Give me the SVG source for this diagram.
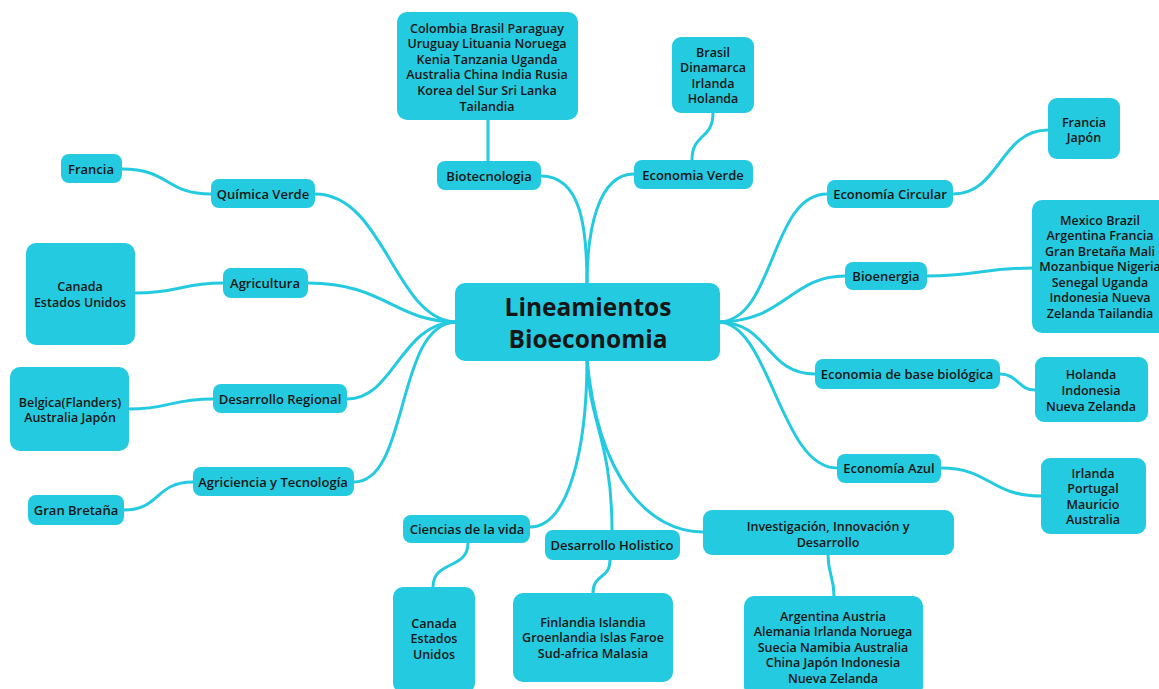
<svg xmlns="http://www.w3.org/2000/svg" width="1159" height="689" viewBox="0 0 1159 689">
<style>
.n{fill:#24CADF;}
.t{font-family:"Open Sans","Liberation Sans",sans-serif;font-weight:600;font-size:13px;fill:#161616;text-anchor:middle;dominant-baseline:central;}
.m{font-size:12.5px;}
.c{fill:none;stroke:#24CADF;stroke-width:3;stroke-linecap:round;}
.big{font-size:24.5px;font-weight:700;}
</style>
<rect width="1159" height="689" fill="#ffffff"/>
<g id="connectors">
<path class="c" d="M315,194 C385,194 395,322 457,322"/>
<path class="c" d="M308,283 C385,283 395,322 457,322"/>
<path class="c" d="M347,399 C395,399 400,322 457,322"/>
<path class="c" d="M354,482 C410,482 395,322 457,322"/>
<path class="c" d="M718,322 C775,322 770,194 827,194"/>
<path class="c" d="M718,322 C785,322 790,276 845,276"/>
<path class="c" d="M718,322 C770,322 765,374 815,374"/>
<path class="c" d="M718,322 C770,322 780,468 837,468"/>
<path class="c" d="M541,176 C582,176 587,230 587,285"/>
<path class="c" d="M634,174 C598,174 587,230 587,285"/>
<path class="c" d="M530,527 C568,527 587,450 587,359"/>
<path class="c" d="M612,530 C612,440 588,420 587,359"/>
<path class="c" d="M703,532 C650,532 598,480 587,359"/>
<path class="c" d="M122,169 C170,169 165,194 211,194"/>
<path class="c" d="M223,283 C180,283 180,293 135,293"/>
<path class="c" d="M213,399 C170,399 170,409 129,409"/>
<path class="c" d="M193,482 C155,482 160,510 124,510"/>
<path class="c" d="M488,120 L488,161"/>
<path class="c" d="M713,113 C713,140 692,133 692,160"/>
<path class="c" d="M953,194 C1000,194 1000,130 1048,130"/>
<path class="c" d="M927,276 C975,276 985,268 1032,268"/>
<path class="c" d="M1000,374 C1018,374 1018,390 1035,390"/>
<path class="c" d="M941,468 C990,468 990,496 1041,496"/>
<path class="c" d="M468,543 C468,570 433,560 433,587"/>
<path class="c" d="M610,560 C610,580 593,573 593,593"/>
<path class="c" d="M828,555 C828,575 834,576 834,596"/>
</g>
<g id="center"><rect class="n" x="455" y="283" width="265" height="78" rx="10"/><text class="t big" x="588" y="306">Lineamientos</text><text class="t big" x="588" y="338">Bioeconomia</text></g>
<g id="biotecnologia"><rect class="n" x="437" y="161" width="104" height="29" rx="8"/><text class="t" x="489" y="176">Biotecnologia</text></g>
<g id="bio-paises"><rect class="n" x="397" y="12" width="181" height="108" rx="10"/><text class="t m" x="487" y="28">Colombia Brasil Paraguay</text><text class="t m" x="487" y="43.6">Uruguay Lituania Noruega</text><text class="t m" x="487" y="59.2">Kenia Tanzania Uganda</text><text class="t m" x="487" y="74.8">Australia China India Rusia</text><text class="t m" x="487" y="90.4">Korea del Sur Sri Lanka</text><text class="t m" x="487" y="106">Tailandia</text></g>
<g id="economia-verde"><rect class="n" x="634" y="160" width="119" height="29" rx="8"/><text class="t" x="693" y="175">Economia Verde</text></g>
<g id="verde-paises"><rect class="n" x="672" y="37" width="82" height="76" rx="9"/><text class="t m" x="713" y="52">Brasil</text><text class="t m" x="713" y="67.6">Dinamarca</text><text class="t m" x="713" y="83.2">Irlanda</text><text class="t m" x="713" y="98.8">Holanda</text></g>
<g id="economia-circular"><rect class="n" x="827" y="180" width="126" height="28" rx="8"/><text class="t" x="890" y="194">Economía Circular</text></g>
<g id="circular-paises"><rect class="n" x="1048" y="98" width="72" height="61" rx="9"/><text class="t m" x="1084" y="122">Francia</text><text class="t m" x="1084" y="137.6">Japón</text></g>
<g id="bioenergia"><rect class="n" x="845" y="262" width="82" height="28" rx="8"/><text class="t" x="886" y="276">Bioenergia</text></g>
<g id="bioenergia-paises"><rect class="n" x="1032" y="200" width="140" height="133" rx="10"/><text class="t m" x="1100" y="220">Mexico Brazil</text><text class="t m" x="1100" y="235.5">Argentina Francia</text><text class="t m" x="1100" y="251">Gran Bretaña Mali</text><text class="t m" x="1100" y="266.5">Mozanbique Nigeria</text><text class="t m" x="1100" y="282">Senegal Uganda</text><text class="t m" x="1100" y="297.5">Indonesia Nueva</text><text class="t m" x="1100" y="313">Zelanda Tailandia</text></g>
<g id="economia-base"><rect class="n" x="815" y="359" width="185" height="30" rx="8"/><text class="t" x="907" y="374">Economia de base biológica</text></g>
<g id="base-paises"><rect class="n" x="1035" y="357" width="113" height="65" rx="9"/><text class="t m" x="1091" y="374">Holanda</text><text class="t m" x="1091" y="390">Indonesia</text><text class="t m" x="1091" y="406">Nueva Zelanda</text></g>
<g id="economia-azul"><rect class="n" x="837" y="454" width="104" height="29" rx="8"/><text class="t" x="889" y="468">Economía Azul</text></g>
<g id="azul-paises"><rect class="n" x="1041" y="458" width="105" height="76" rx="9"/><text class="t m" x="1093" y="473">Irlanda</text><text class="t m" x="1093" y="488.6">Portugal</text><text class="t m" x="1093" y="504.2">Mauricio</text><text class="t m" x="1093" y="519.8">Australia</text></g>
<g id="investigacion"><rect class="n" x="703" y="510" width="251" height="45" rx="9"/><text class="t m" x="828" y="526">Investigación, Innovación y</text><text class="t m" x="828" y="542">Desarrollo</text></g>
<g id="investigacion-paises"><rect class="n" x="744" y="596" width="179" height="100" rx="10"/><text class="t m" x="833" y="616">Argentina Austria</text><text class="t m" x="833" y="631.6">Alemania Irlanda Noruega</text><text class="t m" x="833" y="647.2">Suecia Namibia Australia</text><text class="t m" x="833" y="662.8">China Japón Indonesia</text><text class="t m" x="833" y="678.4">Nueva Zelanda</text></g>
<g id="desarrollo-holistico"><rect class="n" x="545" y="530" width="135" height="30" rx="8"/><text class="t" x="612" y="545">Desarrollo Holistico</text></g>
<g id="holistico-paises"><rect class="n" x="513" y="593" width="160" height="89" rx="10"/><text class="t m" x="593" y="622">Finlandia Islandia</text><text class="t m" x="593" y="637.6">Groenlandia Islas Faroe</text><text class="t m" x="593" y="653.2">Sud-africa Malasia</text></g>
<g id="ciencias-vida"><rect class="n" x="403" y="515" width="127" height="28" rx="8"/><text class="t" x="467" y="529">Ciencias de la vida</text></g>
<g id="ciencias-paises"><rect class="n" x="393" y="587" width="82" height="106" rx="10"/><text class="t m" x="434" y="623">Canada</text><text class="t m" x="434" y="638.6">Estados</text><text class="t m" x="434" y="654.2">Unidos</text></g>
<g id="quimica-verde"><rect class="n" x="211" y="179" width="104" height="29" rx="8"/><text class="t" x="263" y="194">Química Verde</text></g>
<g id="quimica-paises"><rect class="n" x="61" y="154" width="61" height="29" rx="8"/><text class="t" x="91" y="169">Francia</text></g>
<g id="agricultura"><rect class="n" x="223" y="268" width="85" height="30" rx="8"/><text class="t" x="265" y="283">Agricultura</text></g>
<g id="agricultura-paises"><rect class="n" x="26" y="243" width="109" height="102" rx="10"/><text class="t m" x="80" y="286">Canada</text><text class="t m" x="80" y="302">Estados Unidos</text></g>
<g id="desarrollo-regional"><rect class="n" x="213" y="384" width="134" height="29" rx="8"/><text class="t" x="280" y="399">Desarrollo Regional</text></g>
<g id="regional-paises"><rect class="n" x="10" y="367" width="119" height="84" rx="10"/><text class="t m" x="70" y="402">Belgica(Flanders)</text><text class="t m" x="70" y="417.6">Australia Japón</text></g>
<g id="agriciencia"><rect class="n" x="193" y="467" width="161" height="29" rx="8"/><text class="t" x="273" y="482">Agriciencia y Tecnología</text></g>
<g id="agriciencia-paises"><rect class="n" x="28" y="495" width="96" height="30" rx="8"/><text class="t" x="76" y="510">Gran Bretaña</text></g>
</svg>
